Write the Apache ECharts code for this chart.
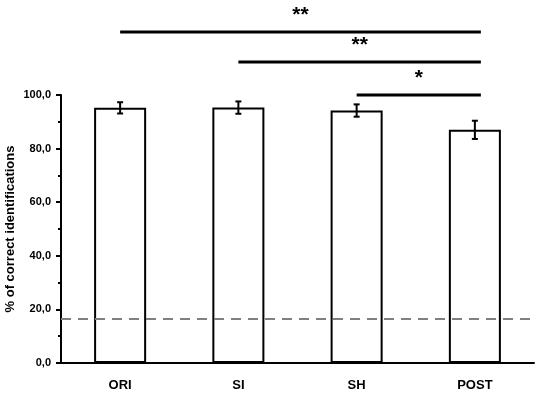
<!DOCTYPE html>
<html>
<head>
<meta charset="utf-8">
<script src="https://cdn.jsdelivr.net/npm/echarts@6/dist/echarts.min.js"></script>
<style>html,body{margin:0;padding:0;background:#fff}#c{width:536px;height:393px}</style>
</head>
<body>
<div id="c"></div>
<script>
var categories = ['ORI', 'SI', 'SH', 'POST'];
var means = [95.2, 95.3, 94.2, 87.0];
var errors = [2.1, 2.3, 2.3, 3.4];
var chanceLevel = 16.67;
// brackets: [startCategoryIndex, endCategoryIndex, level, label]
var brackets = [
  [0, 3, 123.5, '**'],
  [1, 3, 112.3, '**'],
  [2, 3, 100.0, '*']
];

var fontFam = '"Liberation Sans", Arial, sans-serif';
var chart = echarts.init(document.getElementById('c'), null, {renderer: 'canvas'});

chart.setOption({
  animation: false,
  backgroundColor: '#ffffff',
  grid: {left: 61, right: 2, top: 95, bottom: 30, containLabel: false, outerBoundsMode: 'none'},
  xAxis: {
    type: 'category',
    data: categories,
    axisLine: {show: true, lineStyle: {color: '#000', width: 2}},
    axisTick: {show: false},
    axisLabel: {color: '#000', fontWeight: 'bold', fontSize: 13, fontFamily: fontFam, margin: 16}
  },
  yAxis: {
    type: 'value',
    min: 0, max: 100, interval: 20,
    name: '% of correct identifications',
    nameLocation: 'middle',
    nameGap: 44,
    nameMoveOverlap: false,
    nameRotate: 90,
    nameTextStyle: {color: '#000', fontWeight: 'bold', fontSize: 13, fontFamily: fontFam},
    axisLine: {show: true, lineStyle: {color: '#000', width: 2}},
    axisTick: {show: true, length: 5, lineStyle: {color: '#000', width: 2}},
    minorTick: {show: true, splitNumber: 2, length: 3, lineStyle: {color: '#000', width: 2}},
    splitLine: {show: false},
    axisLabel: {
      color: '#000', fontWeight: 'bold', fontSize: 11, fontFamily: fontFam, margin: 10,
      formatter: function (v) { return v.toFixed(1).replace('.', ','); }
    }
  },
  series: [
    {
      type: 'bar',
      data: means,
      barWidth: '44%',
      itemStyle: {color: '#fff', borderColor: '#000', borderWidth: 2},
      markLine: {
        silent: true,
        symbol: 'none',
        label: {show: false},
        lineStyle: {color: '#808080', type: [10, 7], width: 2},
        data: [{yAxis: chanceLevel}]
      },
      z: 2
    },
    {
      type: 'custom',
      data: means.map(function (m, i) { return [i, m - errors[i], m + errors[i]]; }),
      renderItem: function (params, api) {
        var lo = api.coord([api.value(0), api.value(1)]);
        var hi = api.coord([api.value(0), api.value(2)]);
        var w = 3;
        var st = {stroke: '#000', lineWidth: 2};
        return {
          type: 'group',
          children: [
            {type: 'line', shape: {x1: hi[0], y1: hi[1], x2: lo[0], y2: lo[1]}, style: st},
            {type: 'line', shape: {x1: hi[0] - w, y1: hi[1], x2: hi[0] + w, y2: hi[1]}, style: st},
            {type: 'line', shape: {x1: lo[0] - w, y1: lo[1], x2: lo[0] + w, y2: lo[1]}, style: st}
          ]
        };
      },
      z: 5
    },
    {
      type: 'custom',
      clip: false,
      data: brackets,
      renderItem: function (params, api) {
        var a = api.coord([api.value(0), api.value(2)]);
        var b = api.coord([api.value(1), api.value(2)]);
        var x2 = b[0] + 6;
        var label = brackets[params.dataIndex][3];
        return {
          type: 'group',
          children: [
            {type: 'line', shape: {x1: a[0], y1: a[1], x2: x2, y2: b[1]}, style: {stroke: '#000', lineWidth: 3}},
            {type: 'text', style: {
              text: label, x: (a[0] + x2) / 2, y: a[1] - 6,
              textAlign: 'center', textVerticalAlign: 'bottom',
              font: 'bold 21px ' + fontFam, fill: '#000'
            }}
          ]
        };
      },
      z: 6
    }
  ]
});
</script>
</body>
</html>
